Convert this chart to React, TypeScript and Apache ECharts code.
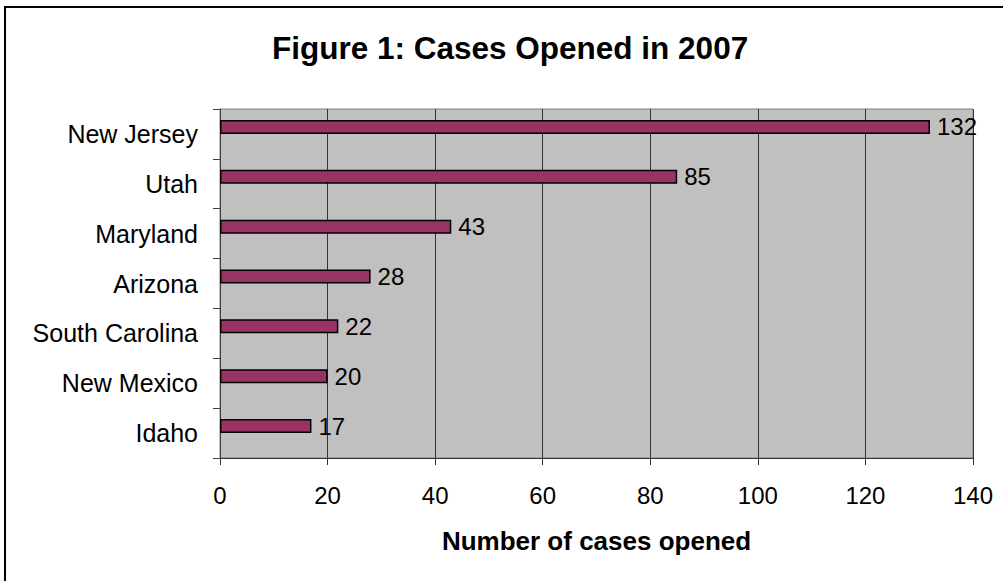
import React, { useEffect, useRef } from "react";
import * as echarts from "echarts";

const categories = ["New Jersey", "Utah", "Maryland", "Arizona", "South Carolina", "New Mexico", "Idaho"];
const casesOpened = [132, 85, 43, 28, 22, 20, 17];
const emptySeries = [null, null, null, null, null, null, null];
const xMin = 0;
const xMax = 140;
const xStep = 20;

const FONT = "'Liberation Sans', Arial, sans-serif";

export default function App() {
  const ref = useRef<HTMLDivElement>(null);
  useEffect(() => {
    document.body.style.margin = "0";
    const chart = echarts.init(ref.current!, null, { renderer: "svg" });
    chart.setOption({
      animation: false,
      backgroundColor: "#ffffff",
      textStyle: { fontFamily: FONT },
      title: {
        text: "Figure 1: Cases Opened in 2007",
        left: 272,
        top: 32,
        padding: 0,
        textStyle: { fontFamily: FONT, fontSize: 31.5, fontWeight: "bold", color: "#000" },
      },
      graphic: [
        {
          type: "rect",
          shape: { x: 5, y: 7, width: 1100, height: 700 },
          style: { fill: "none", stroke: "#000", lineWidth: 2 },
          silent: true,
        },
      ],
      grid: {
        left: 220,
        top: 109,
        width: 753,
        height: 349,
        show: true,
        backgroundColor: "#C0C0C0",
        borderColor: "#808080",
        borderWidth: 1,
      },
      xAxis: {
        type: "value",
        min: xMin,
        max: xMax,
        interval: xStep,
        name: "Number of cases opened",
        nameLocation: "middle",
        nameGap: 70,
        nameTextStyle: { fontFamily: FONT, fontSize: 26, fontWeight: "bold", color: "#000" },
        axisLine: { show: true, lineStyle: { color: "#333", width: 1 } },
        axisTick: { show: true, length: 7, lineStyle: { color: "#333" } },
        axisLabel: { fontFamily: FONT, fontSize: 24, color: "#000", margin: 25 },
        splitLine: { show: true, lineStyle: { color: "#333", width: 1 } },
      },
      yAxis: {
        type: "category",
        data: categories,
        inverse: true,
        axisLine: { show: true, lineStyle: { color: "#404040", width: 1 } },
        axisTick: { show: true, length: 7, alignWithLabel: false, lineStyle: { color: "#404040" } },
        axisLabel: { fontFamily: FONT, fontSize: 25, color: "#000", margin: 22 },
        splitLine: { show: false },
      },
      series: [
        {
          type: "bar",
          data: casesOpened,
          barWidth: 14,
          barGap: "0%",
          itemStyle: { color: "#993366", borderColor: "#000", borderWidth: 1.5 },
          label: {
            show: true,
            position: "right",
            distance: 7,
            fontFamily: FONT,
            fontSize: 24,
            color: "#000",
          },
        },
        {
          type: "bar",
          data: emptySeries,
          barWidth: 14,
          barGap: "0%",
        },
      ],
    });
    return () => chart.dispose();
  }, []);
  return <div ref={ref} style={{ position: "absolute", left: 0, top: 0, width: 1003, height: 581 }} />;
}
